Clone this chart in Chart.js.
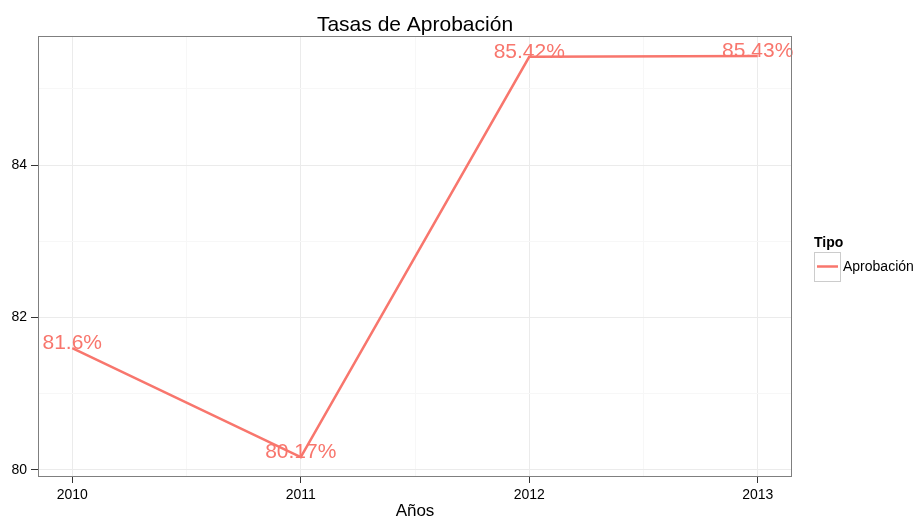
<!DOCTYPE html>
<html>
<head>
<meta charset="utf-8">
<script src="https://cdn.jsdelivr.net/npm/chart.js@4/dist/chart.umd.min.js"></script>
<style>
  html, body { margin: 0; padding: 0; background: #fff; }
  #wrap { width: 916px; height: 520px; }
</style>
</head>
<body>
<div id="wrap"><canvas id="grafico" width="916" height="520"></canvas></div>
<script>
// datos
const anios = [2010, 2011, 2012, 2013];
const tasas = [81.6, 80.17, 85.42, 85.43];
const etiquetas = ['81.6%', '80.17%', '85.42%', '85.43%'];
const xTicks = [2010, 2010.5, 2011, 2011.5, 2012, 2012.5, 2013];
const yTicks = [80, 81, 82, 83, 84, 85];

const ROJO = '#F8766D';
const FUENTE = '"Liberation Sans", Arial, sans-serif';

// titulo, borde del panel, etiquetas de texto y leyenda
const extras = {
    id: 'extras',
    afterDatasetsDraw(chart) {
        const ctx = chart.ctx;
        const a = chart.chartArea;
        const xs = chart.scales.x, ys = chart.scales.y;
        ctx.save();
        // etiquetas sobre los puntos
        ctx.fillStyle = ROJO;
        ctx.font = '21px ' + FUENTE;
        ctx.textAlign = 'center';
        ctx.textBaseline = 'alphabetic';
        anios.forEach((an, i) => {
            ctx.fillText(etiquetas[i], xs.getPixelForValue(an), ys.getPixelForValue(tasas[i]) + 1);
        });
        // borde
        ctx.strokeStyle = '#7F7F7F';
        ctx.lineWidth = 1;
        ctx.strokeRect(a.left + 0.5, a.top + 0.5, a.right - a.left - 1, a.bottom - a.top - 1);
        // titulo
        ctx.fillStyle = '#000';
        ctx.font = '21px ' + FUENTE;
        ctx.fillText('Tasas de Aprobación', (a.left + a.right) / 2, 31);
        // leyenda
        ctx.textAlign = 'left';
        ctx.font = 'bold 14px ' + FUENTE;
        ctx.fillText('Tipo', 814, 247);
        ctx.fillStyle = '#fff';
        ctx.fillRect(814, 252, 26, 29);
        ctx.strokeStyle = '#CCCCCC';
        ctx.strokeRect(814.5, 252.5, 26, 29);
        ctx.strokeStyle = ROJO;
        ctx.lineWidth = 2.5;
        ctx.beginPath();
        ctx.moveTo(817, 266.5);
        ctx.lineTo(838, 266.5);
        ctx.stroke();
        ctx.fillStyle = '#000';
        ctx.font = '14px ' + FUENTE;
        ctx.textBaseline = 'middle';
        ctx.fillText('Aprobación', 843, 267);
        ctx.restore();
    }
};

const esEntero = v => Math.abs(v - Math.round(v)) < 1e-6;

new Chart(document.getElementById('grafico'), {
    type: 'line',
    data: {
        datasets: [{
            label: 'Aprobación',
            data: anios.map((an, i) => ({ x: an, y: tasas[i] })),
            borderColor: ROJO,
            borderWidth: 2.5,
            pointRadius: 0,
            tension: 0,
            fill: false
        }]
    },
    options: {
        responsive: false,
        animation: false,
        layout: { padding: { top: 36, right: 124, left: 0, bottom: 0 } },
        plugins: {
            legend: { display: false },
            title: { display: false },
            tooltip: { enabled: false }
        },
        scales: {
            x: {
                type: 'linear',
                min: 2009.85,
                max: 2013.15,
                afterBuildTicks: s => { s.ticks = xTicks.map(v => ({ value: v })); },
                afterFit: s => { s.height = 43; },
                border: { display: false },
                grid: {
                    color: c => (c.tick && esEntero(c.tick.value)) ? '#EBEBEB' : '#F7F7F7',
                    tickColor: c => (c.tick && esEntero(c.tick.value)) ? '#333333' : 'rgba(0,0,0,0)',
                    tickLength: 6
                },
                ticks: {
                    autoSkip: false,
                    maxRotation: 0,
                    padding: 4,
                    color: '#000',
                    font: { family: FUENTE, size: 14 },
                    callback: v => esEntero(v) ? String(Math.round(v)) : ''
                },
                title: {
                    display: true,
                    text: 'Años',
                    color: '#000',
                    font: { family: FUENTE, size: 17, lineHeight: 1.0 },
                    padding: { top: 0, bottom: 0 }
                }
            },
            y: {
                min: 79.908,
                max: 85.693,
                afterBuildTicks: s => { s.ticks = yTicks.map(v => ({ value: v })); },
                afterFit: s => { s.width = 38; },
                border: { display: false },
                grid: {
                    color: c => (c.tick && c.tick.value % 2 === 0) ? '#EBEBEB' : '#F7F7F7',
                    tickColor: c => (c.tick && c.tick.value % 2 === 0) ? '#333333' : 'rgba(0,0,0,0)',
                    tickLength: 7
                },
                ticks: {
                    padding: 4,
                    color: '#000',
                    font: { family: FUENTE, size: 14 },
                    callback: v => (v % 2 === 0) ? String(v) : ''
                }
            }
        }
    },
    plugins: [extras]
});
</script>
</body>
</html>
